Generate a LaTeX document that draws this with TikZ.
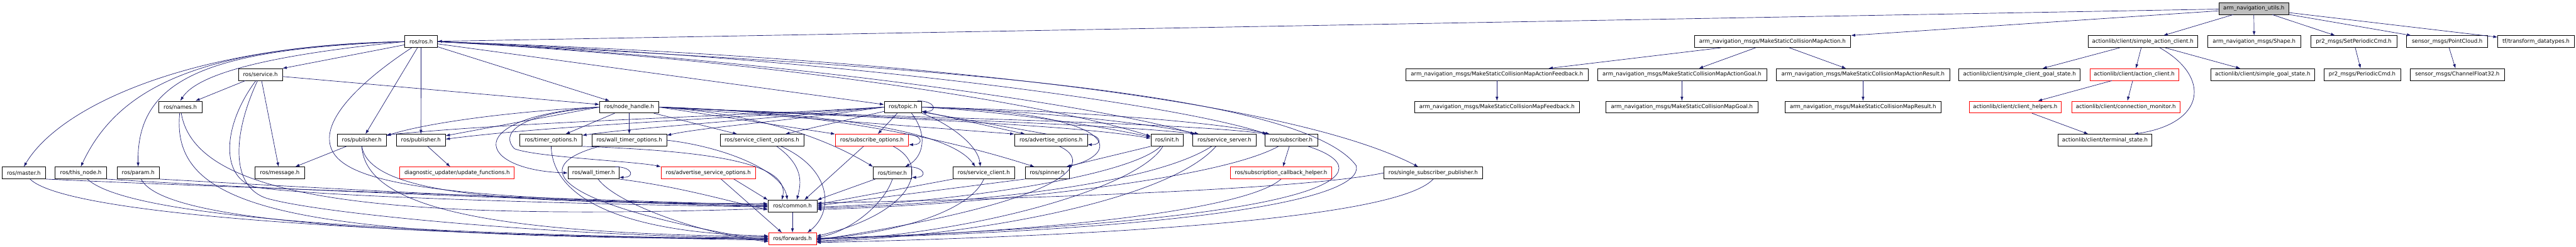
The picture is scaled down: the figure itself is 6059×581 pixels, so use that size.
\documentclass[tikz,border=0pt]{standalone}
\usepackage{fontspec}
\newfontfamily\dxfont{DejaVu Sans}
\usetikzlibrary{arrows.meta}
\definecolor{edgec}{HTML}{191970}
\definecolor{gfill}{HTML}{BFBFBF}
\tikzset{
  box/.style={draw=black, line width=1pt, fill=white, minimum height=28pt, inner xsep=6pt, inner ysep=0pt, font=\dxfont\fontsize{12.7}{14}\selectfont},
  redbox/.style={box, draw=red},
  edge/.style={draw=edgec, line width=1pt, -{Latex[length=10pt,width=7pt]}},
}
\newcommand\selfloop[1]{\draw[edge] ([xshift=-10pt]#1.north east) .. controls +(42,0) and +(38,0) .. ([yshift=4pt]#1.south east);}
\begin{document}
\begin{tikzpicture}[x=1pt,y=1pt]
\useasboundingbox[fill=white] (0,0) rectangle (6059,-581);
% row 0
\node[box, fill=gfill, minimum width=165pt] (utils) at (5301,-20) {arm\_navigation\_utils.h};
% row 1
\node[box, minimum width=77pt] (ros) at (990.5,-98) {ros/ros.h};
\node[box, minimum width=368pt] (msa) at (4169,-98) {arm\_navigation\_msgs/MakeStaticCollisionMapAction.h};
\node[box, minimum width=257pt] (sac) at (5040,-98) {actionlib/client/simple\_action\_client.h};
\node[box, minimum width=220pt] (shape) at (5302,-98) {arm\_navigation\_msgs/Shape.h};
\node[box, minimum width=203pt] (spc) at (5536,-98) {pr2\_msgs/SetPeriodicCmd.h};
\node[box, minimum width=191pt] (pc) at (5756,-98) {sensor\_msgs/PointCloud.h};
\node[box, minimum width=180pt] (tf) at (5965,-98) {tf/transform\_datatypes.h};
% row 2
\node[box, minimum width=103pt] (service) at (612.5,-175.5) {ros/service.h};
\node[box, minimum width=428pt] (afb) at (3521,-175.5) {arm\_navigation\_msgs/MakeStaticCollisionMapActionFeedback.h};
\node[box, minimum width=398pt] (agoal) at (3956,-175.5) {arm\_navigation\_msgs/MakeStaticCollisionMapActionGoal.h};
\node[box, minimum width=407pt] (ares) at (4382,-175.5) {arm\_navigation\_msgs/MakeStaticCollisionMapActionResult.h};
\node[box, minimum width=285pt] (scgs) at (4750,-175.5) {actionlib/client/simple\_client\_goal\_state.h};
\node[redbox, minimum width=209pt] (ac) at (5020,-175.5) {actionlib/client/action\_client.h};
\node[box, minimum width=244pt] (sgs) at (5322,-175.5) {actionlib/client/simple\_goal\_state.h};
\node[box, minimum width=180pt] (pcmd) at (5556,-175.5) {pr2\_msgs/PeriodicCmd.h};
\node[box, minimum width=222pt] (cf32) at (5780,-175.5) {sensor\_msgs/ChannelFloat32.h};
% row 3
\node[box, minimum width=102pt] (names) at (424,-252) {ros/names.h};
\node[box, minimum width=139pt] (nh) at (1480,-252) {ros/node\_handle.h};
\node[box, minimum width=88pt] (topic) at (2124,-252) {ros/topic.h};
\node[box, minimum width=388pt] (fb) at (3521,-252) {arm\_navigation\_msgs/MakeStaticCollisionMapFeedback.h};
\node[box, minimum width=358pt] (goal) at (3956,-252) {arm\_navigation\_msgs/MakeStaticCollisionMapGoal.h};
\node[box, minimum width=368pt] (res) at (4382,-252) {arm\_navigation\_msgs/MakeStaticCollisionMapResult.h};
\node[redbox, minimum width=216pt] (ch) at (4740,-252) {actionlib/client/client\_helpers.h};
\node[redbox, minimum width=255pt] (cm) at (5000,-252) {actionlib/client/connection\_monitor.h};
% row 4
\node[box, minimum width=115pt] (pub1) at (851,-330) {ros/publisher.h};
\node[box, minimum width=115pt] (pub2) at (990,-330) {ros/publisher.h};
\node[box, minimum width=146pt] (tmo) at (1296,-330) {ros/timer\_options.h};
\node[box, minimum width=176pt] (wtmo) at (1480,-330) {ros/wall\_timer\_options.h};
\node[box, minimum width=197pt] (sco) at (1792,-330) {ros/service\_client\_options.h};
\node[redbox, minimum width=172pt] (subo) at (2051,-330) {ros/subscribe\_options.h};
\node[box, minimum width=171pt] (ado) at (2472,-330) {ros/advertise\_options.h};
\node[box, minimum width=76pt] (init) at (2745,-330) {ros/init.h};
\node[box, minimum width=149pt] (ss) at (2880,-330) {ros/service\_server.h};
\node[box, minimum width=124pt] (sub) at (3037,-330) {ros/subscriber.h};
\node[box, minimum width=221pt] (ts) at (4951,-330) {actionlib/client/terminal\_state.h};
% row 5
\node[box, minimum width=103pt] (master) at (56,-407) {ros/master.h};
\node[box, minimum width=121pt] (thisnode) at (190,-407) {ros/this\_node.h};
\node[box, minimum width=100pt] (param) at (325,-407) {ros/param.h};
\node[box, minimum width=116pt] (message) at (658,-407) {ros/message.h};
\node[redbox, minimum width=269pt] (duf) at (1075,-407) {diagnostic\_updater/update\_functions.h};
\node[box, minimum width=120pt] (wt) at (1396,-407) {ros/wall\_timer.h};
\node[redbox, minimum width=222pt] (aso) at (1666,-407) {ros/advertise\_service\_options.h};
\node[box, minimum width=90pt] (timer) at (2099,-407) {ros/timer.h};
\node[box, minimum width=144pt] (scl) at (2314,-407) {ros/service\_client.h};
\node[box, minimum width=104pt] (spin) at (2463,-407) {ros/spinner.h};
\node[redbox, minimum width=239pt] (sch) at (3013,-407) {ros/subscription\_callback\_helper.h};
\node[box, minimum width=233pt] (ssp) at (3371,-407) {ros/single\_subscriber\_publisher.h};
% row 6, 7
\node[box, minimum width=115pt] (common) at (1864,-485) {ros/common.h};
\node[redbox, minimum width=112pt] (fwd) at (1864,-562) {ros/forwards.h};

% ---- top right part
\draw[edge] (utils) -- (ros);
\draw[edge] (utils) -- (msa.north east);
\draw[edge] (utils) -- (sac);
\draw[edge] (utils) -- (shape);
\draw[edge] (utils) -- (spc);
\draw[edge] (utils) -- (pc);
\draw[edge] (utils) -- (tf);
\draw[edge] (msa) -- (afb);
\draw[edge] (msa) -- (agoal);
\draw[edge] (msa) -- (ares);
\draw[edge] (afb) -- (fb);
\draw[edge] (agoal) -- (goal);
\draw[edge] (ares) -- (res);
\draw[edge] (sac) -- (scgs);
\draw[edge] (sac) -- (ac);
\draw[edge] (sac) -- (sgs);
\draw[edge] ([xshift=40pt]sac.south) .. controls (5200,-180) and (5190,-290) .. ([xshift=68pt]ts.north);
\draw[edge] (ac) -- (ch);
\draw[edge] (ac) -- (cm);
\draw[edge] (ch) -- (ts);
\draw[edge] (spc) -- (pcmd);
\draw[edge] (pc) -- (cf32);

% ---- ros/ros.h
\draw[edge] (ros.west) .. controls (450,-105) and (140,-250) .. (master.north);
\draw[edge] (ros.west) .. controls (480,-110) and (280,-200) .. (thisnode.north);
\draw[edge] (ros.west) .. controls (500,-115) and (320,-180) .. (param.north);
\draw[edge] (ros.west) .. controls (680,-125) and (470,-165) .. (names.north);
\draw[edge] (ros) -- (service.north east);
\draw[edge] (ros) -- (pub1);
\draw[edge] (ros) -- (pub2);
\draw[edge] (ros) -- (nh);
\draw[edge] (ros) -- (topic);
\draw[edge] (ros.east) .. controls (1800,-140) and (2450,-240) .. ([yshift=-5pt]init.north west);
\draw[edge] (ros.east) .. controls (1800,-135) and (2600,-250) .. ([xshift=5pt]ss.north west);
\draw[edge] (ros.east) .. controls (1900,-130) and (2750,-240) .. ([xshift=5pt]sub.north west);
\draw[edge] (ros.east) .. controls (2000,-130) and (3000,-220) .. ([xshift=-35pt]ssp.north);
\draw[edge] (ros) .. controls (880,-170) and (770,-260) .. (775,-330) .. controls (780,-430) and (1000,-470) .. ([yshift=4pt]common.west);
\draw[edge] (ros.east) .. controls (2000,-150) and (3050,-200) .. (3190,-390) .. controls (3210,-470) and (2800,-540) .. (fwd.east);

% ---- service, names, master, this_node, param
\draw[edge] (service) -- (names);
\draw[edge] (service) -- (message);
\draw[edge] (service) -- (nh);
\draw[edge] (service) .. controls (520,-300) and (520,-420) .. (600,-440) .. controls (700,-460) and (1300,-480) .. ([yshift=-2pt]common.west);
\draw[edge] (service) .. controls (545,-320) and (540,-450) .. (640,-470) .. controls (800,-510) and (1400,-560) .. ([yshift=3pt]fwd.west);
\draw[edge] (names) .. controls (460,-470) and (900,-520) .. ([yshift=-6pt]common.west);
\draw[edge] (names) .. controls (400,-500) and (700,-560) .. (fwd.west);
\draw[edge] (master.south east) .. controls (500,-440) and (1400,-470) .. ([yshift=2pt]common.west);
\draw[edge] (master) .. controls (150,-500) and (800,-550) .. ([yshift=-3pt]fwd.west);
\draw[edge] (thisnode.south east) .. controls (600,-445) and (1400,-475) .. (common.west);
\draw[edge] (thisnode) .. controls (300,-510) and (900,-550) .. ([yshift=-1pt]fwd.west);
\draw[edge] (param.south east) .. controls (700,-440) and (1400,-478) .. ([yshift=-1pt]common.west);
\draw[edge] (param) .. controls (380,-520) and (900,-555) .. ([yshift=1pt]fwd.west);

% ---- publishers
\draw[edge] (pub1) -- (message);
\draw[edge] (pub1.south) .. controls (870,-460) and (1200,-480) .. ([yshift=6pt]common.west);
\draw[edge] (pub1.south) .. controls (860,-500) and (1200,-550) .. ([yshift=5pt]fwd.west);
\draw[edge] (pub2) -- (duf);

% ---- node_handle
\draw[edge] (nh.west) .. controls (1200,-262) and (1000,-290) .. ([yshift=-4pt]pub1.north east);
\draw[edge] (nh.west) -- ([yshift=-4pt]pub2.north east);
\draw[edge] (nh) -- (tmo);
\draw[edge] (nh) -- (wtmo);
\draw[edge] (nh) -- (sco);
\draw[edge] (nh.west) .. controls (1080,-275) and (1120,-400) .. (wt.west);
\draw[edge] (nh.west) .. controls (1200,-270) and (1180,-320) .. (1210,-350) .. controls (1260,-370) and (1500,-380) .. (aso.north west);
\draw[edge] (nh.east) -- (subo.north west);
\draw[edge] (nh.east) -- (ado.north west);
\draw[edge] (nh.east) .. controls (1800,-270) and (1950,-330) .. (timer.north west);
\draw[edge] (nh.east) .. controls (1900,-265) and (2230,-300) .. ([xshift=-20pt]scl.north);
\draw[edge] (nh.east) .. controls (2000,-265) and (2300,-350) .. ([xshift=-30pt]spin.north);
\draw[edge] (nh.east) .. controls (2000,-275) and (2500,-290) .. ([yshift=-10pt]init.north west);
\draw[edge] (nh.east) .. controls (2000,-275) and (2600,-290) .. ([xshift=8pt]ss.north west);
\draw[edge] (nh.east) .. controls (2000,-275) and (2750,-285) .. ([xshift=8pt]sub.north west);

% ---- topic
\selfloop{topic}
\draw[edge] (topic.west) .. controls (1700,-275) and (1250,-285) .. ([yshift=-2pt]pub1.north east);
\draw[edge] (topic.west) .. controls (1700,-280) and (1300,-295) .. ([yshift=-12pt]pub2.north east);
\draw[edge] (topic.west) .. controls (1750,-285) and (1500,-300) .. ([yshift=-3pt]tmo.north east);
\draw[edge] (topic.west) .. controls (1850,-285) and (1650,-300) .. ([yshift=-3pt]wtmo.north east);
\draw[edge] (topic) -- ([xshift=55pt]sco.north);
\draw[edge] (topic) -- (subo);
\draw[edge] (topic) -- ([xshift=25pt]ado.north west);
\draw[edge] ([xshift=-10pt]ado.north) -- ([yshift=3pt]topic.south east);
\draw[edge] ([xshift=20pt]topic.south) .. controls (2185,-320) and (2170,-370) .. ([xshift=30pt]timer.north);
\draw[edge] (topic.south east) .. controls (2230,-290) and (2300,-340) .. ([xshift=-8pt]scl.north);
\draw[edge] (topic.east) .. controls (2640,-265) and (2640,-360) .. ([xshift=-5pt]spin.north east);
\draw[edge] (topic.east) .. controls (2400,-265) and (2600,-300) .. ([yshift=-7pt]init.north west);
\draw[edge] (topic.east) .. controls (2450,-262) and (2700,-290) .. ([xshift=15pt]ss.north west);
\draw[edge] (topic.east) .. controls (2500,-260) and (2850,-285) .. ([xshift=12pt]sub.north west);

% ---- option headers and others towards common / forwards
\draw[edge] (tmo.south east) .. controls (1650,-355) and (1860,-380) .. ([xshift=-25pt]common.north);
\draw[edge] (tmo) .. controls (1300,-480) and (1500,-550) .. ([yshift=7pt]fwd.west);
\draw[edge] (wtmo.east) .. controls (1700,-345) and (1840,-400) .. ([xshift=-12pt]common.north);
\draw[edge] ([xshift=-70pt]wtmo.south) .. controls (1240,-390) and (1290,-480) .. ([yshift=-5pt]fwd.west);
\selfloop{wt}
\draw[edge] (wt.south east) .. controls (1600,-440) and (1700,-470) .. ([yshift=-9pt]common.west);
\draw[edge] (wt) .. controls (1450,-480) and (1650,-550) .. ([yshift=-7pt]fwd.west);
\draw[edge] ([xshift=60pt]aso.south) -- (common.north west);
\draw[edge] ([xshift=30pt]aso.south) -- ([xshift=-25pt]fwd.north);
\draw[edge] ([xshift=35pt]sco.south) .. controls (1890,-390) and (1885,-430) .. ([xshift=10pt]common.north);
\draw[edge] ([xshift=45pt]sco.south) .. controls (1960,-400) and (1960,-500) .. ([xshift=35pt]fwd.north);
\selfloop{subo}
\draw[edge] ([xshift=-20pt]subo.south) -- ([xshift=28pt]common.north);
\draw[edge] ([xshift=50pt]subo.south) .. controls (2190,-390) and (2150,-500) .. ([yshift=6pt]fwd.east);
\selfloop{timer}
\draw[edge] (timer) -- (common.north east);
\draw[edge] (timer.south) .. controls (2080,-480) and (2000,-545) .. ([yshift=3pt]fwd.east);
\draw[edge] (scl.south west) -- ([yshift=4pt]common.east);
\draw[edge] (scl.south) .. controls (2280,-500) and (2100,-550) .. (fwd.east);
\draw[edge] (spin.south west) -- ([yshift=1pt]common.east);
\selfloop{ado}
\draw[edge] ([xshift=20pt]ado.south) .. controls (2570,-380) and (2540,-470) .. ([yshift=-3pt]fwd.east);
\draw[edge] (init.south west) -- ([xshift=-8pt]spin.north east);
\draw[edge] ([xshift=-15pt]init.south) .. controls (2650,-420) and (2200,-480) .. ([yshift=-2pt]common.east);
\draw[edge] ([xshift=-10pt]init.south) .. controls (2680,-440) and (2300,-550) .. ([yshift=-5pt]fwd.east);
\draw[edge] ([xshift=-30pt]ss.south) .. controls (2700,-440) and (2250,-480) .. ([yshift=-5pt]common.east);
\draw[edge] ([xshift=-20pt]ss.south) .. controls (2750,-470) and (2300,-555) .. ([yshift=-7pt]fwd.east);
\draw[edge] (sub) -- (sch);
\draw[edge] ([xshift=-30pt]sub.south) .. controls (2850,-430) and (2250,-485) .. ([yshift=-8pt]common.east);
\draw[edge] ([xshift=40pt]sub.south) .. controls (3250,-400) and (3200,-520) .. ([yshift=1pt]fwd.east);
\draw[edge] (sch.south) .. controls (2950,-480) and (2600,-540) .. ([yshift=-1pt]fwd.east);
\draw[edge] (ssp.south) .. controls (3300,-500) and (2800,-550) .. ([yshift=-9pt]fwd.east);
\draw[edge] (ssp.west) .. controls (3050,-450) and (2300,-470) .. ([yshift=7pt]common.east);
\draw[edge] (common) -- (fwd);
\end{tikzpicture}
\end{document}
